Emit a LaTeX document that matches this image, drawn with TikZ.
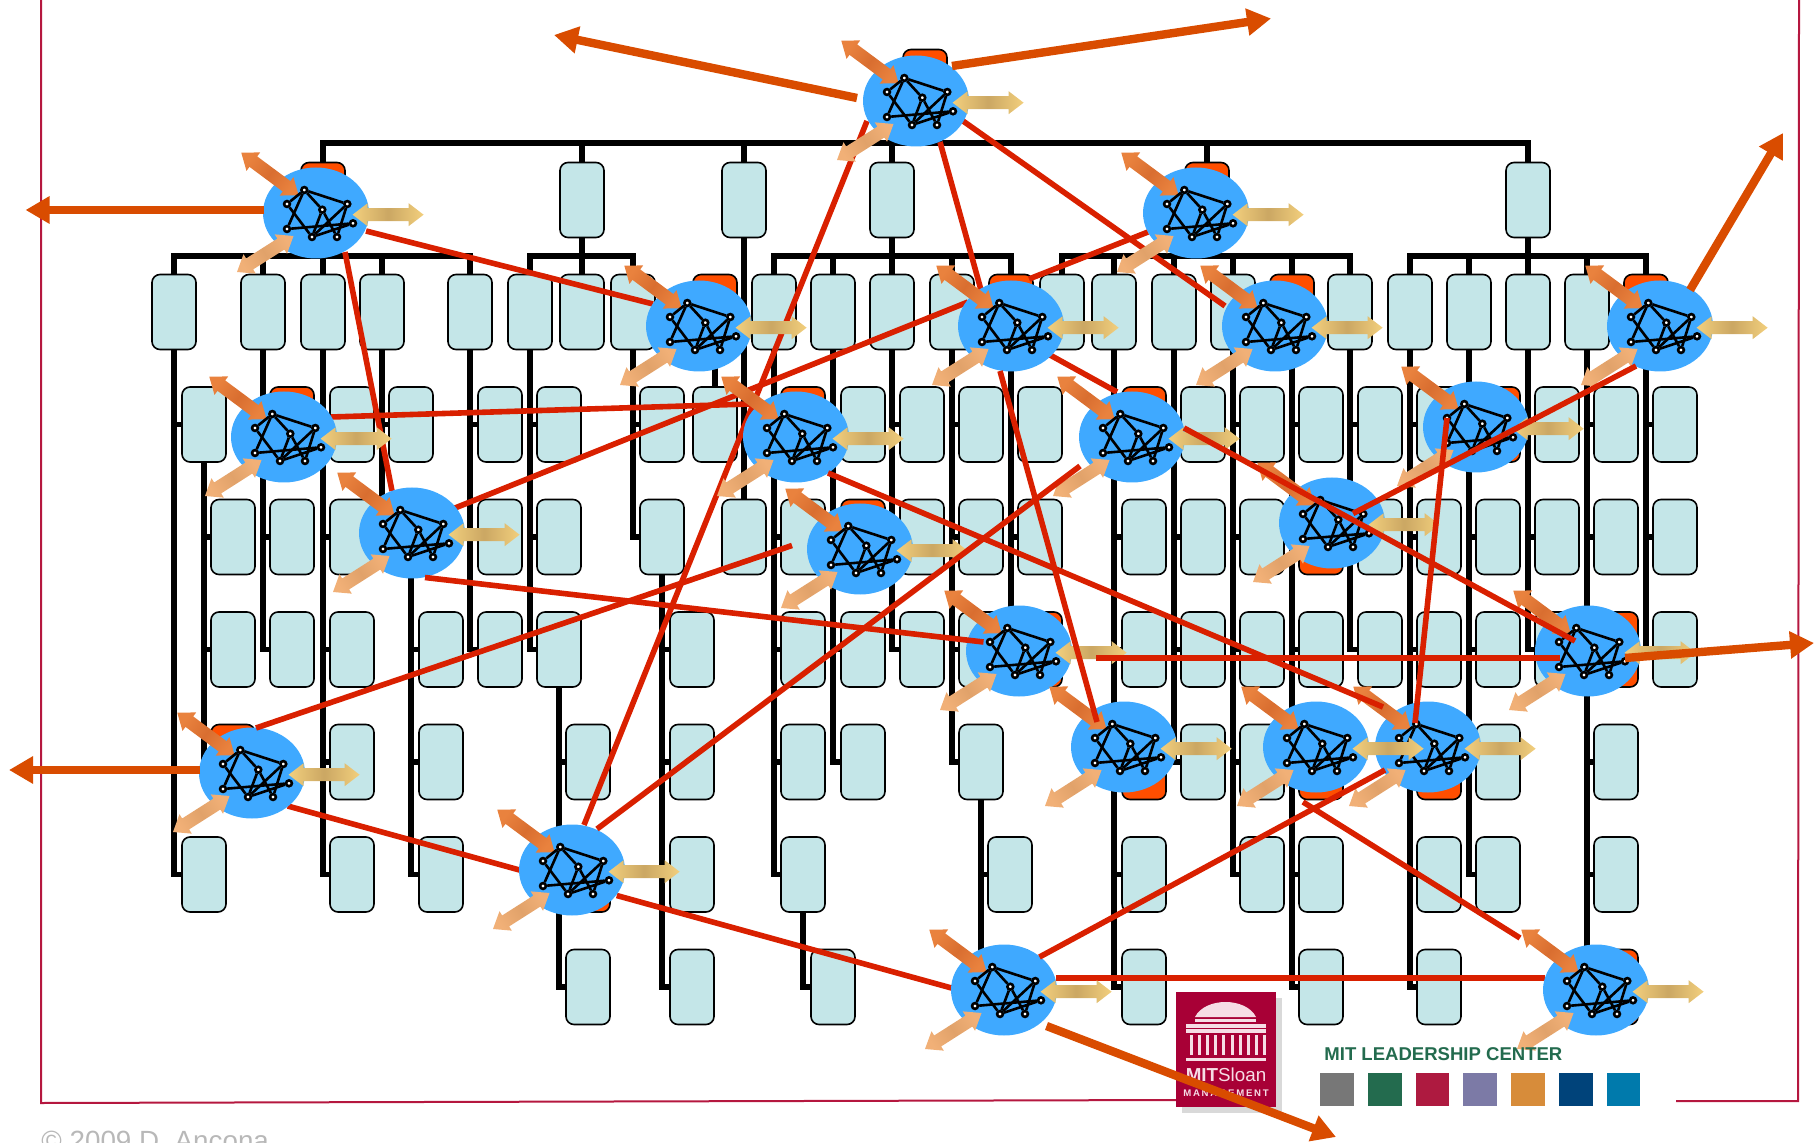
\documentclass[tikz,border=0pt]{standalone}
\usepackage{fontspec}
\setmainfont{Liberation Sans}
\usetikzlibrary{arrows.meta,calc,shapes.geometric,shadows}
\definecolor{roleColor}{HTML}{C4E6E8}
\definecolor{leadColor}{HTML}{FF4E00}
\definecolor{hubColor}{HTML}{3FA9FF}
\definecolor{linkColor}{HTML}{D92000}
\definecolor{reachColor}{HTML}{D94C00}
\definecolor{frameColor}{HTML}{B5173F}
\definecolor{logoColor}{HTML}{A80036}
\definecolor{logoInk}{HTML}{F6DDE5}
\definecolor{upEnd}{HTML}{E9823E}
\definecolor{upMid}{HTML}{D96E30}
\definecolor{downEnd}{HTML}{F1B077}
\definecolor{downMid}{HTML}{E1A26A}
\definecolor{sideEnd}{HTML}{F2CF7D}
\definecolor{sideMid}{HTML}{CBA763}
\definecolor{swGray}{HTML}{777777}
\definecolor{swGreen}{HTML}{236B4E}
\definecolor{swCrimson}{HTML}{AE1A40}
\definecolor{swPurple}{HTML}{7C7AA6}
\definecolor{swOrange}{HTML}{D78C3A}
\definecolor{swNavy}{HTML}{00437A}
\definecolor{swBlue}{HTML}{007AAC}
\tikzset{rolebox/.style={draw, line width=.8pt, fill=roleColor, rounded corners=4pt, minimum width=22pt, minimum height=37.5pt, inner sep=0pt}}
\tikzset{leadbox/.style={rolebox, fill=leadColor}}
\tikzset{hub/.style={ellipse, fill=hubColor, minimum width=53pt, minimum height=45.5pt, inner sep=0pt}}
\tikzset{orgline/.style={draw, line width=2.7pt}}
\tikzset{redlink/.style={draw=linkColor, line width=2.8pt}}
\tikzset{reach/.style={draw=reachColor, line width=4.2pt, -{Triangle[length=12pt, width=13pt]}}}
\tikzset{netdot/.style={circle, draw, fill=white, line width=1.3pt, minimum size=2.9pt, inner sep=0pt}}
\tikzset{swatch/.style={rectangle, minimum width=16.8pt, minimum height=16.5pt, inner sep=0pt}}
\tikzset{hubnet/.pic={
  % arrows
  \foreach \ax/\ay/\ang/\len/\tipc/\midc in {-74.7/-60.3/-36.6/71.4/upEnd/upMid, -79/59/32.5/67/downEnd/downMid, 36.6/1.7/0/71/sideEnd/sideMid} {
    \pgfmathsetmacro{\shadeang}{90+\ang}
    \shade[shift={(\ax,\ay)}, rotate=\ang, left color=\tipc, right color=\tipc, middle color=\midc, shading angle=\shadeang]
      (0,0) -- (15,-11.5) -- (15,-6.5) -- ({\len-15},-6.5) -- ({\len-15},-11.5) -- (\len,0) -- ({\len-15},11.5) -- ({\len-15},6.5) -- (15,6.5) -- (15,11.5) -- cycle;
  }
  % small network
  \node[netdot] (-a) at (-11.7,-23) {};
  \node[netdot] (-b) at (-29,-9) {};
  \node[netdot] (-c) at (31.3,-9) {};
  \node[netdot] (-d) at (6.3,-3.3) {};
  \node[netdot] (-e) at (37,10.3) {};
  \node[netdot] (-f) at (-29,16) {};
  \node[netdot] (-g) at (-4,24) {};
  \node[netdot] (-h) at (21,24) {};
  \foreach \ea/\eb in {a/b, a/c, a/d, a/f, b/g, c/g, c/h, d/h, d/g, f/e, g/e}
    \draw[line width=1.3pt] (-\ea) -- (-\eb);
}}

\begin{document}
\begin{tikzpicture}[x=.5pt, y=-.5pt]
\pgfdeclarelayer{orglines}
\pgfdeclarelayer{links}
\pgfdeclarelayer{hubs}
\pgfdeclarelayer{toplinks}
\pgfsetlayers{orglines,main,links,hubs,toplinks}
\useasboundingbox (0,0) rectangle (1818,1143);

% Frame
\draw[frameColor, line width=1pt] (41,0) -- (41,1103) -- (1180,1100);
\draw[frameColor, line width=1pt] (1676,1101) -- (1798,1101) -- (1799,0);

% Role boxes
\node[leadbox] (ceobox) at (925,87) {};
\foreach \xb in {582,744,892,1528} \node[rolebox] (r0x\xb) at (\xb,200) {};
\foreach \xb in {323,1207} \node[leadbox] (r0x\xb) at (\xb,200) {};
\foreach \xb in {174,263,323,382,470,530,582,633,774,833,892,952,1062,1114,1174,1233,1350,1410,1469,1528,1587} \node[rolebox] (r1x\xb) at (\xb,312) {};
\foreach \xb in {715,1011,1292,1646} \node[leadbox] (r1x\xb) at (\xb,312) {};
\foreach \xb in {204,352,411,500,559,662,715,863,922,981,1040,1203,1262,1321,1380,1439,1557,1616,1675} \node[rolebox] (r2x\xb) at (\xb,424.5) {};
\foreach \xb in {292,803,1144,1498} \node[leadbox] (r2x\xb) at (\xb,424.5) {};
\foreach \xb in {233,292,352,411,500,559,662,744,803,922,981,1040,1144,1203,1262,1380,1439,1498,1557,1616,1675} \node[rolebox] (r3x\xb) at (\xb,537) {};
\foreach \xb in {863,1321} \node[leadbox] (r3x\xb) at (\xb,537) {};
\foreach \xb in {233,292,352,441,500,559,692,803,863,922,981,1144,1203,1262,1321,1380,1439,1498,1557,1675} \node[rolebox] (r4x\xb) at (\xb,649.5) {};
\foreach \xb in {1040,1616} \node[leadbox] (r4x\xb) at (\xb,649.5) {};
\foreach \xb in {352,441,588,692,803,863,981,1203,1262,1498,1616} \node[rolebox] (r5x\xb) at (\xb,762) {};
\foreach \xb in {233,1144,1321,1439} \node[leadbox] (r5x\xb) at (\xb,762) {};
\foreach \xb in {204,352,441,692,803,1010,1144,1262,1321,1439,1498,1616} \node[rolebox] (r6x\xb) at (\xb,874.5) {};
\node[leadbox] (r6x588) at (588,874.5) {};
\foreach \xb in {588,692,833,1010,1144,1321,1439} \node[rolebox] (r7x\xb) at (\xb,987) {};
\node[leadbox] (r7x1616) at (1616,987) {};

% Reporting lines
\begin{pgfonlayer}{orglines}
\foreach \kid in {r0x323,r0x582,r0x744,r0x892,r0x1207,r0x1528}
  \draw[orgline] (ceobox.south) |- (\kid.north |- 0,143) -- (\kid.north);
\foreach \boss/\kids in {
  r0x323/{r1x174,r1x263,r1x323,r1x382,r1x470},
  r0x582/{r1x530,r1x582,r1x633},
  r0x892/{r1x774,r1x833,r1x892,r1x952,r1x1011},
  r0x1207/{r1x1062,r1x1114,r1x1174,r1x1233,r1x1292,r1x1350},
  r0x1528/{r1x1410,r1x1469,r1x1528,r1x1587,r1x1646}}
  \foreach \kid in \kids
    \draw[orgline] (\boss.south) |- (\kid.north |- 0,256) -- (\kid.north);
\draw[orgline] (r0x744.south) -- (r3x744.north);
\draw[orgline] (r1x715.south) -- (r2x715.north);
\foreach \boss/\kids in {
  r1x174/{r2x204,r6x204},
  r2x204/{r3x233,r4x233,r5x233},
  r1x263/{r2x292,r3x292,r4x292},
  r1x323/{r2x352,r3x352,r4x352,r5x352,r6x352},
  r1x382/{r2x411,r3x411},
  r3x411/{r4x441,r5x441,r6x441},
  r1x470/{r2x500,r3x500,r4x500},
  r1x530/{r2x559,r3x559,r4x559},
  r4x559/{r5x588,r6x588,r7x588},
  r1x633/{r2x662,r3x662},
  r3x662/{r4x692,r5x692,r6x692,r7x692},
  r1x774/{r2x803,r3x803,r4x803,r5x803,r6x803},
  r6x803/{r7x833},
  r1x833/{r2x863,r3x863,r4x863,r5x863},
  r1x892/{r2x922,r3x922,r4x922},
  r1x952/{r2x981,r3x981,r4x981,r5x981},
  r5x981/{r6x1010,r7x1010},
  r1x1011/{r2x1040,r3x1040,r4x1040},
  r1x1114/{r2x1144,r3x1144,r4x1144,r5x1144,r6x1144,r7x1144},
  r1x1174/{r2x1203,r3x1203,r4x1203,r5x1203},
  r1x1233/{r2x1262,r3x1262,r4x1262,r5x1262,r6x1262},
  r1x1292/{r2x1321,r3x1321,r4x1321,r5x1321,r6x1321,r7x1321},
  r1x1350/{r2x1380,r3x1380,r4x1380},
  r1x1410/{r2x1439,r3x1439,r4x1439,r5x1439,r6x1439,r7x1439},
  r1x1469/{r2x1498,r3x1498,r4x1498,r5x1498,r6x1498},
  r1x1528/{r2x1557,r3x1557,r4x1557},
  r1x1587/{r2x1616,r3x1616,r4x1616,r5x1616,r6x1616,r7x1616},
  r1x1646/{r2x1675,r3x1675,r4x1675}}
  \foreach \kid in \kids
    \draw[orgline] (\boss.south) |- (\kid.west);
\end{pgfonlayer}

% Hubs
\begin{pgfonlayer}{hubs}
\foreach \hname/\hx/\hy in {h01/916/101, h02/316/213, h03/1196/213, h04/699/326, h05/1011/326, h06/1275/326, h07/1660/326, h08/284/437, h09/412/533, h10/796/437, h11/1132/437, h12/1476/427, h13/860/549, h14/1332/523, h15/1019/651, h16/1588/651, h17/1124/747, h19/1428/747, h18/1316/747, h20/252/773, h21/572/870, h22/1004/990, h23/1596/990} {
  \node[hub] (\hname) at (\hx,\hy) {};
  \pic (\hname) at (\hx,\hy) {hubnet};
}
% Logo
\node[rectangle, fill=logoColor, minimum width=50pt, minimum height=57.5pt, inner sep=0pt, drop shadow={shadow xshift=3pt, shadow yshift=-3pt, opacity=.3}] (sloan) at (1226,1049.5) {};
\fill[logoInk] (1195,1017) .. controls (1205,997) and (1246,997) .. (1256,1017) -- cycle;
\fill[logoInk] (1195,1018.5) rectangle (1256,1022);
\fill[logoInk] (1186,1023.5) rectangle (1266,1027.5);
\fill[logoInk] (1186,1029) rectangle (1266,1032.5);
\foreach \cx in {0,...,9} \fill[logoInk] ({1189.5+8.2*\cx},1035) rectangle ({1192.5+8.2*\cx},1055);
\fill[logoInk] (1186,1057.5) rectangle (1266,1061);
\node[anchor=base, inner sep=0pt, text=logoInk, font=\fontsize{9.4}{11}\selectfont] (sloanname) at (1226,1081.5) {\textbf{MIT}Sloan};
\node[anchor=base, inner sep=0pt, text=logoInk, font=\fontsize{4.8}{6}\bfseries\addfontfeatures{LetterSpace=18}] (sloanschool) at (1226,1096) {MANAGEMENT};
\end{pgfonlayer}

% Links under the hubs
\begin{pgfonlayer}{links}
\foreach \from/\fx/\fy/\to/\tx/\ty in {h01/47/20/h06/-50/-20, h01/24/41/h05/-30/-36, h01/-49/20/h21/12/-45, h02/50/18/h04/-46/-22, h02/29/39/h09/-20/-42, h08/47/-20/h10/-46/-33, h09/43/-25/h05/-43/-24, h05/18/-47/h03/-48/19, h05/39/29/h11/-15/-45, h20/35.7/33/h21/-52.5/0, h21/44.7/25.5/h22/-52.5/-2, h22/52/-12/h23/-51/-12, h18/-13/55/h23/-76/-52}
  \draw[redlink] ($(\from)+(\fx,\fy)$) -- ($(\to)+(\tx,\ty)$);
\end{pgfonlayer}

% Links and long arrows over the hubs
\begin{pgfonlayer}{toplinks}
\foreach \from/\fx/\fy/\to/\tx/\ty in {h10/32/36/h19/-45/-40, h11/52/-9/h16/-13/-10, h05/-11/45/h17/-27/-25, h11/-52/29/h21/25/-41, h13/-68/-3.5/h20/4/-45, h09/13/44.5/h15/-35.5/-9, h15/77/7/h16/-28/7, h22/35.5/-33/h19/-43/23, h12/-29/-9/h19/-13/-24, h07/-24/40/h14/21/-9.5}
  \draw[redlink] ($(\from)+(\fx,\fy)$) -- ($(\to)+(\tx,\ty)$);
\coordinate (reachA) at (554,35);
\coordinate (reachB) at (1271,18.5);
\coordinate (reachC) at (25.5,210);
\coordinate (reachD) at (1783,133);
\coordinate (reachE) at (9,770);
\coordinate (reachF) at (1814,643);
\coordinate (reachG) at (1336,1137);
\foreach \from/\fx/\fy/\tip in {h01/-59/-3/reachA, h01/36/-35/reachB, h02/-52/-3/reachC, h07/30/-36/reachD, h20/-52/-3/reachE, h16/37/7/reachF, h22/42.5/36/reachG}
  \draw[reach] ($(\from)+(\fx,\fy)$) -- (\tip);
% Legend
\node[anchor=base west, inner sep=0pt, text=swGreen, font=\fontsize{9.27}{11}\bfseries] (centername) at (1324,1060.5) {MIT LEADERSHIP CENTER};
\foreach \sname/\sx/\scol in {a/1337/swGray, b/1385/swGreen, c/1432.5/swCrimson, d/1480/swPurple, e/1528/swOrange, f/1576/swNavy, g/1623.5/swBlue}
  \node[swatch, fill=\scol] (sw\sname) at (\sx,1089.5) {};
\node[anchor=base west, inner sep=0pt, text=black!28, font=\fontsize{13.9}{16}\selectfont] (copyline) at (41,1150) {© 2009 D. Ancona};
\end{pgfonlayer}

\end{tikzpicture}
\end{document}
